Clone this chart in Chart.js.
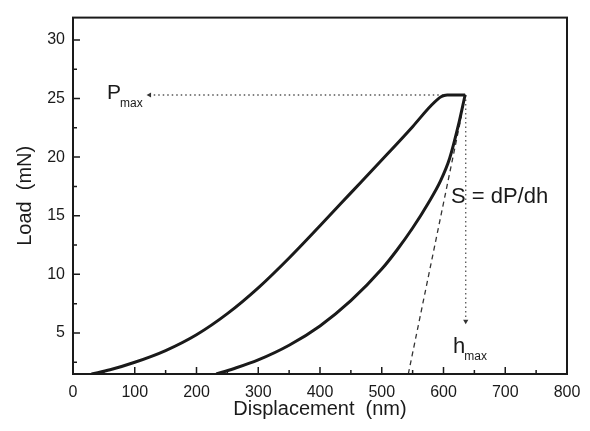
<!DOCTYPE html>
<html>
<head>
<meta charset="utf-8">
<script src="https://cdn.jsdelivr.net/npm/chart.js@4.4.0/dist/chart.umd.min.js"></script>
<style>
html, body {margin: 0; padding: 0; background: #fff;}
</style>
</head>
<body>
<canvas id="mygraph" width="590" height="431"></canvas>
<script>
// loading / unloading curves
const loadX = [30, 60, 100, 150, 200, 250, 300, 350, 400, 450, 500, 550, 580, 596, 606, 635]
const loadY = [1.5, 1.86, 2.5, 3.5, 4.85, 6.65, 8.85, 11.4, 14.15, 16.95, 19.75, 22.6, 24.4, 25.15, 25.3, 25.3]
const unloadX = [635, 624, 610, 595, 575, 550, 525, 500, 450, 400, 350, 300, 260, 232]
const unloadY = [25.3, 22.7, 19.9, 17.95, 16.05, 13.95, 12.1, 10.45, 7.75, 5.6, 3.95, 2.7, 1.95, 1.5]
// tangent S = dP/dh
const tangentX = [543, 629]
const tangentY = [1.5, 23.5]
// guide arrows
const pmaxX = [636, 124]
const pmaxY = [25.3, 25.3]
const hmaxX = [636, 636]
const hmaxY = [25.3, 6.0]

const xMajor = [0, 100, 200, 300, 400, 500, 600, 700, 800]
const xMinor = [50, 150, 250, 350, 450, 550, 650, 750]
const yMajor = [5, 10, 15, 20, 25, 30]
const yMinor = [2.5, 7.5, 12.5, 17.5, 22.5, 27.5]

const font = "Arial, 'Liberation Sans', sans-serif"
const ink = '#1a1a1a'

function pts(xs, ys) {
    return xs.map((x, i) => ({x: x, y: ys[i]}))
}

const frameAndText = {
    id: 'frameAndText',
    afterDatasetsDraw(chart) {
        const ctx = chart.ctx
        const a = chart.chartArea
        const x = chart.scales.x, y = chart.scales.y
        ctx.save()
        ctx.strokeStyle = ink
        ctx.lineWidth = 1.5
        ctx.beginPath()
        xMajor.forEach(v => { const p = x.getPixelForValue(v); ctx.moveTo(p, a.bottom); ctx.lineTo(p, a.bottom - 7) })
        xMinor.forEach(v => { const p = x.getPixelForValue(v); ctx.moveTo(p, a.bottom); ctx.lineTo(p, a.bottom - 4) })
        yMajor.forEach(v => { const p = y.getPixelForValue(v); ctx.moveTo(a.left, p); ctx.lineTo(a.left + 7, p) })
        yMinor.forEach(v => { const p = y.getPixelForValue(v); ctx.moveTo(a.left, p); ctx.lineTo(a.left + 4, p) })
        ctx.stroke()
        ctx.lineWidth = 2
        ctx.strokeRect(a.left, a.top, a.right - a.left, a.bottom - a.top)

        // annotations
        ctx.fillStyle = ink
        ctx.textBaseline = 'alphabetic'
        ctx.font = '21px ' + font
        let px = x.getPixelForValue(55), py = y.getPixelForValue(24.95)
        ctx.fillText('P', px, py)
        let w = ctx.measureText('P').width
        ctx.font = '12px ' + font
        ctx.fillText('max', px + w - 1, py + 8)

        ctx.font = '22px ' + font
        px = x.getPixelForValue(615.4); py = y.getPixelForValue(3.28)
        ctx.fillText('h', px, py)
        w = ctx.measureText('h').width
        ctx.font = '12px ' + font
        ctx.fillText('max', px + w - 1, py + 7)

        ctx.font = '22px ' + font
        px = x.getPixelForValue(612); py = y.getPixelForValue(16.06)
        ctx.fillText('S = dP/dh', px, py)
        ctx.restore()
    }
}

const ctx = document.getElementById('mygraph').getContext('2d')
const chart = new Chart(ctx, {
    type: 'scatter',
    data: {datasets: [
        {data: pts(loadX, loadY), showLine: true, borderColor: ink, borderWidth: 3, pointRadius: 0, cubicInterpolationMode: 'monotone'},
        {data: pts(unloadX, unloadY), showLine: true, borderColor: ink, borderWidth: 3, pointRadius: 0, cubicInterpolationMode: 'monotone'},
        {data: pts(tangentX, tangentY), showLine: true, borderColor: '#333', borderWidth: 1.3, borderDash: [5, 4], pointRadius: 0},
        {data: pts(pmaxX, pmaxY), showLine: true, borderColor: '#555', borderWidth: 1.3, borderDash: [1.5, 3],
         pointRadius: [0, 3], pointStyle: 'triangle', pointRotation: 270, backgroundColor: '#333', pointBorderWidth: 0},
        {data: pts(hmaxX, hmaxY), showLine: true, borderColor: '#555', borderWidth: 1.3, borderDash: [1.5, 3],
         pointRadius: [0, 3], pointStyle: 'triangle', pointRotation: 180, backgroundColor: '#333', pointBorderWidth: 0}
    ]},
    options: {
        responsive: false,
        animation: false,
        layout: {padding: {top: 12, right: 23, left: 0, bottom: 0}},
        plugins: {legend: {display: false}, tooltip: {enabled: false}},
        scales: {
            x: {
                type: 'linear', min: 0, max: 800,
                afterBuildTicks: s => { s.ticks = xMajor.map(v => ({value: v})) },
                afterFit: s => { s.height = 57 },
                grid: {display: false, drawTicks: false},
                border: {display: false},
                ticks: {font: {family: font, size: 16}, color: ink, padding: 9, maxRotation: 0, autoSkip: false},
                title: {display: true, text: 'Displacement  (nm)', font: {family: font, size: 20}, color: ink, padding: {top: 0, bottom: 10}}
            },
            y: {
                type: 'linear', min: 1.5, max: 31.9,
                afterBuildTicks: s => { s.ticks = yMajor.map(v => ({value: v})) },
                afterFit: s => { s.width = 73 },
                grid: {display: false, drawTicks: false},
                border: {display: false},
                ticks: {font: {family: font, size: 16}, color: ink, padding: 8, autoSkip: false},
                title: {display: true, text: 'Load  (mN)', font: {family: font, size: 20}, color: ink, padding: {top: 13, bottom: 0}}
            }
        }
    },
    plugins: [frameAndText]
})
</script>
</body>
</html>
